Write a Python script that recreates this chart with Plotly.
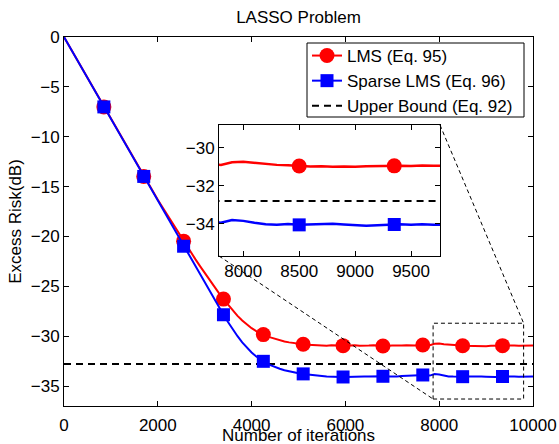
import plotly.graph_objects as go

# ---------------- data ----------------
iterations = list(range(0, 10001, 100))

lms_db = [
    0.0, -0.82, -1.65, -2.47, -3.30, -4.12, -4.95, -5.77, -6.60, -7.42,
    -8.24, -9.06, -9.88, -10.70, -11.52, -12.34, -13.16, -13.98, -14.76, -15.54,
    -16.31, -17.08, -17.84, -18.60, -19.35, -20.10, -20.84, -21.56, -22.27, -22.97,
    -23.66, -24.33, -25.00, -25.65, -26.28, -26.88, -27.44, -27.96, -28.43, -28.85,
    -29.20, -29.50, -29.74, -29.94, -30.12, -30.28, -30.42, -30.53, -30.62, -30.70,
    -30.76, -30.81, -30.85, -30.88, -30.90, -30.93, -30.95, -30.92, -30.90, -30.94,
    -30.96, -30.93, -30.91, -30.95, -30.97, -30.94, -30.92, -30.95, -30.98, -30.95,
    -30.93, -30.96, -30.94, -30.92, -30.95, -30.93, -30.90, -30.88, -30.90, -30.76,
    -30.74, -30.80, -30.86, -30.90, -30.92, -30.96, -30.98, -30.97, -31.00, -30.98,
    -31.00, -30.97, -30.95, -30.96, -30.94, -30.96, -30.93, -30.95, -30.93, -30.95,
    -30.94,
]

sparse_db = [
    0.0, -0.82, -1.65, -2.47, -3.30, -4.12, -4.95, -5.77, -6.60, -7.42,
    -8.24, -9.06, -9.88, -10.70, -11.52, -12.34, -13.16, -13.98, -14.80, -15.62,
    -16.44, -17.26, -18.08, -18.90, -19.72, -20.56, -21.40, -22.23, -23.06, -23.88,
    -24.70, -25.50, -26.30, -27.08, -27.85, -28.60, -29.32, -30.00, -30.62, -31.17,
    -31.64, -32.04, -32.38, -32.67, -32.90, -33.10, -33.27, -33.41, -33.53, -33.63,
    -33.71, -33.78, -33.85, -33.92, -33.95, -34.00, -34.05, -34.08, -34.10, -34.10,
    -34.08, -34.05, -34.02, -34.00, -34.03, -34.05, -34.02, -34.00, -34.02, -34.04,
    -34.06, -34.03, -34.00, -33.97, -33.95, -33.90, -33.88, -33.90, -33.95, -33.80,
    -33.85, -33.95, -34.03, -34.05, -34.02, -34.06, -34.04, -34.02, -34.00, -34.04,
    -34.06, -34.10, -34.08, -34.05, -34.03, -34.05, -34.03, -34.06, -34.04, -34.05,
    -34.04,
]

marker_iterations = [850, 1700, 2550, 3400, 4250, 5100, 5950, 6800, 7650, 8500, 9350]
lms_marker_db = [-7.01, -13.98, -20.47, -26.28, -29.84, -30.81, -30.95, -30.98, -30.89, -30.96, -30.95]
sparse_marker_db = [-7.01, -13.98, -20.98, -27.85, -32.52, -33.78, -34.09, -34.02, -33.89, -34.06, -34.04]

upper_bound_db = -32.8

series_names = ["LMS (Eq. 95)", "Sparse LMS (Eq. 96)", "Upper Bound (Eq. 92)"]
x_ticks_main = [0, 2000, 4000, 6000, 8000, 10000]
y_ticks_main = [0, -5, -10, -15, -20, -25, -30, -35]
x_ticks_inset = [8000, 8500, 9000, 9500]
y_ticks_inset = [-30, -32, -34]

# ---------------- styling / layout ----------------
RED = "#ff0000"
BLUE = "#0000ff"
FONT = "Liberation Sans, Arial, Helvetica, sans-serif"
FS = 17

W, H = 559, 444
ML, MR, MT, MB = 64, 26, 37, 38
PW, PH = W - ML - MR, H - MT - MB

X_MAIN = [0, 10000]
Y_MAIN = [-37, 0]
X_INSET = [7783, 9759]
Y_INSET = [-35.7, -28.8]
INSET_DX = [0.3305, 0.8017]
INSET_DY = [0.4065, 0.7615]
ZOOM_BOX = dict(x0=7870, x1=9800, y0=-36.3, y1=-28.7)
LEGEND_BOX_PX = dict(x0=307, x1=524, y0=43, y1=117)  # left, right, top, bottom (px)

fig = go.Figure()


def add_series(xa, ya, lw):
    fig.add_trace(go.Scatter(x=X_MAIN, y=[upper_bound_db] * 2, mode="lines",
                             line=dict(color="black", width=2, dash="7px,5px"),
                             xaxis=xa, yaxis=ya, showlegend=False, hoverinfo="skip"))
    fig.add_trace(go.Scatter(x=iterations, y=lms_db, mode="lines",
                             line=dict(color=RED, width=lw),
                             xaxis=xa, yaxis=ya, showlegend=False))
    fig.add_trace(go.Scatter(x=marker_iterations, y=lms_marker_db, mode="markers",
                             marker=dict(color=RED, size=15, symbol="circle"),
                             xaxis=xa, yaxis=ya, showlegend=False))
    fig.add_trace(go.Scatter(x=iterations, y=sparse_db, mode="lines",
                             line=dict(color=BLUE, width=lw),
                             xaxis=xa, yaxis=ya, showlegend=False))
    fig.add_trace(go.Scatter(x=marker_iterations, y=sparse_marker_db, mode="markers",
                             marker=dict(color=BLUE, size=13, symbol="square"),
                             xaxis=xa, yaxis=ya, showlegend=False))


add_series("x", "y", 2)
add_series("x2", "y2", 2.5)

# legend entries
fig.add_trace(go.Scatter(x=[None], y=[None], mode="lines+markers", name=series_names[0],
                         line=dict(color=RED, width=2), marker=dict(color=RED, size=15, symbol="circle")))
fig.add_trace(go.Scatter(x=[None], y=[None], mode="lines+markers", name=series_names[1],
                         line=dict(color=BLUE, width=2), marker=dict(color=BLUE, size=13, symbol="square")))
fig.add_trace(go.Scatter(x=[None], y=[None], mode="lines", name=series_names[2],
                         line=dict(color="black", width=2, dash="7px,5px")))

axis_common = dict(showline=True, linecolor="black", linewidth=1, mirror="ticks",
                   ticks="inside", ticklen=5, tickcolor="black", showgrid=False,
                   zeroline=False, tickfont=dict(size=FS, color="black", family=FONT),
                   automargin=False, tickformat="d")

fig.update_layout(
    width=W, height=H,
    margin=dict(l=ML, r=MR, t=MT, b=MB),
    paper_bgcolor="white", plot_bgcolor="white",
    template="none",
    font=dict(family=FONT, size=FS, color="black"),
    title=dict(text="LASSO Problem", x=0.5, xref="paper", xanchor="center",
               y=1 - 17.5 / H, yanchor="middle", font=dict(size=FS, color="black")),
    xaxis=dict(range=X_MAIN, tickvals=x_ticks_main, domain=[0, 1], ticklabelstandoff=4,
               **axis_common),
    yaxis=dict(range=Y_MAIN, tickvals=y_ticks_main, domain=[0, 1],
               title=dict(text="Excess Risk(dB)", standoff=4, font=dict(size=FS)),
               **axis_common),
    xaxis2=dict(range=X_INSET, tickvals=x_ticks_inset, domain=INSET_DX, anchor="y2",
                **axis_common),
    yaxis2=dict(range=Y_INSET, tickvals=y_ticks_inset, domain=INSET_DY, anchor="x2",
                **axis_common),
    legend=dict(x=(LEGEND_BOX_PX["x0"] - ML) / PW, xanchor="left",
                y=(MT + PH - 38) / PH, yanchor="top",
                bgcolor="rgba(0,0,0,0)", borderwidth=0,
                font=dict(size=FS, color="black", family=FONT), itemwidth=30,
                tracegroupgap=0),
    showlegend=True,
)

# x-axis title as annotation placed below the tick labels
fig.add_annotation(text="Number of iterations", xref="paper", yref="paper",
                   x=0.5, y=-(435 - (MT + PH)) / PH, xanchor="center", yanchor="middle",
                   showarrow=False, font=dict(size=FS, color="black", family=FONT))

# legend frame
fig.add_shape(type="rect", xref="paper", yref="paper", layer="above",
              x0=(LEGEND_BOX_PX["x0"] - ML) / PW, x1=(LEGEND_BOX_PX["x1"] - ML) / PW,
              y0=(MT + PH - LEGEND_BOX_PX["y1"]) / PH, y1=(MT + PH - LEGEND_BOX_PX["y0"]) / PH,
              line=dict(color="black", width=1), fillcolor="rgba(0,0,0,0)")

# zoom rectangle and connectors (main-axis coordinates)
inset_left = X_MAIN[0] + INSET_DX[0] * (X_MAIN[1] - X_MAIN[0])
inset_right = X_MAIN[0] + INSET_DX[1] * (X_MAIN[1] - X_MAIN[0])
inset_bottom = Y_MAIN[0] + INSET_DY[0] * (Y_MAIN[1] - Y_MAIN[0])
inset_top = Y_MAIN[0] + INSET_DY[1] * (Y_MAIN[1] - Y_MAIN[0])
thin_dash = dict(color="black", width=1, dash="4px,3px")
fig.add_shape(type="rect", xref="x", yref="y", line=thin_dash, **ZOOM_BOX)
fig.add_shape(type="line", xref="x", yref="y", line=thin_dash,
              x0=inset_right, y0=inset_top, x1=ZOOM_BOX["x1"], y1=ZOOM_BOX["y1"])
fig.add_shape(type="line", xref="x", yref="y", line=thin_dash,
              x0=inset_left, y0=inset_bottom, x1=ZOOM_BOX["x0"], y1=ZOOM_BOX["y0"])

fig.write_html("out.html")
